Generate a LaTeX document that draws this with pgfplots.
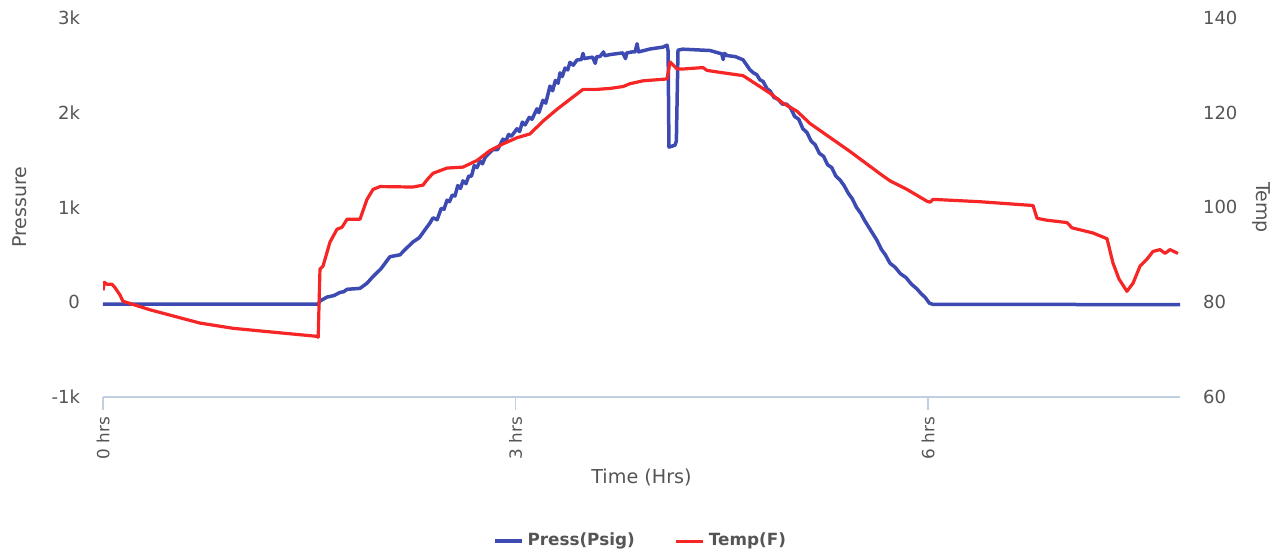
\documentclass[border=0pt]{standalone}
\usepackage{pgfplots}
\pgfplotsset{compat=1.18}
\usepackage{fontspec}
\setmainfont{DejaVu Sans}
\definecolor{pblue}{RGB}{60,74,178}
\definecolor{tred}{RGB}{246,38,38}
\definecolor{axline}{RGB}{192,208,224}
\definecolor{lblgray}{RGB}{85,85,85}
\begin{document}
\begin{tikzpicture}
\useasboundingbox (-51.5pt,-78.5pt) rectangle (588.5pt,198.5pt);
\begin{axis}[
  at={(0pt,0pt)}, anchor=south west,
  width=538.5pt, height=189.6pt, scale only axis,
  xmin=0, xmax=7.833, ymin=-1000, ymax=3000,
  axis x line*=bottom, axis y line*=left,
  x axis line style={draw=axline, line width=0.6pt},
  y axis line style={draw=none},
  xtick={0,3,6}, xticklabels={0 hrs,3 hrs,6 hrs},
  xtick align=outside, major tick length=6.5pt,
  xtick style={draw=axline, line width=0.6pt},
  xticklabel style={rotate=90, anchor=east, font=\fontsize{8.4}{10}\selectfont, text=lblgray},
  ytick={-1000,0,1000,2000,3000}, yticklabels={-1k,0,1k,2k,3k},
  ytick style={draw=none},
  yticklabel style={anchor=east, font=\fontsize{9}{10}\selectfont, text=lblgray, xshift=-8pt},
  xlabel={Time (Hrs)},
  xlabel style={at={(axis description cs:0.5,-0.211)}, anchor=center, font=\fontsize{9.6}{11}\selectfont, text=lblgray},
  ylabel={Pressure},
  ylabel style={at={(axis description cs:-0.0771,0.5)}, anchor=center, font=\fontsize{9.5}{11}\selectfont, text=lblgray},
]
\addplot[pblue, line width=1.75pt, line join=round] coordinates {
(0,-20) (1.564,-20) (1.578,12) (1.600,30) (1.629,54) (1.680,70) (1.724,104) (1.750,110)
(1.775,136) (1.869,146) (1.920,200) (1.964,271) (2.020,350) (2.087,480) (2.160,500)
(2.200,560) (2.255,636) (2.300,680) (2.378,836)
(2.40,890) (2.43,870) (2.46,990) (2.48,980) (2.502,1076) (2.52,1060) (2.54,1130) (2.56,1120)
(2.58,1230) (2.60,1200) (2.618,1280) (2.64,1250) (2.66,1330) (2.68,1330) (2.70,1440) (2.72,1420)
(2.742,1490) (2.76,1460) (2.78,1530) (2.80,1560) (2.836,1610) (2.87,1610) (2.909,1720) (2.93,1700)
(2.95,1770) (2.97,1750) (3.011,1830) (3.03,1800) (3.05,1900) (3.07,1870) (3.10,1950) (3.12,1930)
(3.156,2040) (3.17,2000) (3.20,2130) (3.22,2100) (3.251,2280) (3.27,2230) (3.29,2340) (3.31,2310)
(3.324,2420) (3.34,2380) (3.36,2470) (3.38,2450) (3.396,2530) (3.42,2500) (3.447,2555)
(3.480,2560) (3.491,2625) (3.500,2570) (3.560,2585) (3.580,2520) (3.590,2590) (3.615,2592)
(3.640,2640) (3.650,2600) (3.687,2612) (3.780,2630) (3.800,2570) (3.810,2630) (3.855,2642)
(3.870,2640) (3.884,2726) (3.895,2640) (3.978,2671) (4.073,2691) (4.102,2712) (4.110,2650)
(4.116,1636) (4.160,1656) (4.170,1700) (4.182,2659) (4.218,2669) (4.415,2655) (4.465,2634)
(4.500,2620) (4.510,2560) (4.520,2625) (4.538,2602) (4.600,2590) (4.655,2557)
(4.705,2452) (4.73,2420) (4.755,2400) (4.778,2345) (4.80,2330) (4.83,2250) (4.851,2230)
(4.88,2160) (4.91,2140) (4.94,2090) (4.97,2090) (5.00,2050) (5.03,1960) (5.06,1930)
(5.09,1830) (5.12,1790) (5.15,1700) (5.18,1660) (5.21,1570) (5.24,1540) (5.27,1450)
(5.30,1420) (5.33,1330) (5.36,1290) (5.39,1230) (5.42,1150) (5.45,1090) (5.48,1000)
(5.51,940) (5.54,860) (5.57,790) (5.60,720) (5.63,650) (5.66,560) (5.69,500) (5.724,410)
(5.76,370) (5.80,300) (5.84,260) (5.88,190) (5.92,140) (5.95,90) (5.98,50) (6.01,-10)
(6.036,-23) (7.833,-25)
};
\end{axis}
\begin{axis}[
  at={(0pt,0pt)}, anchor=south west,
  width=538.5pt, height=189.6pt, scale only axis,
  xmin=0, xmax=7.833, ymin=60, ymax=140,
  axis x line=none, axis y line*=right,
  y axis line style={draw=none},
  ytick={60,80,100,120,140}, yticklabels={60,80,100,120,140},
  ytick style={draw=none},
  yticklabel style={anchor=west, font=\fontsize{9}{10}\selectfont, text=lblgray, xshift=8pt},
  ylabel={Temp},
  ylabel style={at={(axis description cs:1.076,0.5)}, anchor=center, rotate=180, font=\fontsize{9.5}{11}\selectfont, text=lblgray},
  legend style={at={(axis description cs:0.5,-0.38)}, anchor=center, draw=none, fill=none,
    legend columns=2, font=\fontsize{8.4}{10}\selectfont\bfseries, text=lblgray,
    /tikz/every even column/.append style={column sep=18pt}},
  legend image code/.code={\draw[#1] (0pt,0pt) -- (13.5pt,0pt);},
]
\addlegendimage{pblue, line width=1.75pt}
\addlegendentry{Press(Psig)}
\addplot[tred, line width=1.6pt, line join=round] coordinates {
(0,82.5) (0.010,84.2) (0.029,83.8) (0.065,83.8) (0.087,83.1) (0.124,81.5) (0.145,80.2)
(0.342,78.4) (0.705,75.6) (0.945,74.5) (1.193,73.8) (1.556,72.8) (1.565,72.6) (1.578,87.0)
(1.600,87.6) (1.651,92.7) (1.702,95.4) (1.738,95.8) (1.775,97.5) (1.869,97.5) (1.920,101.7)
(1.964,103.8) (2.015,104.4) (2.255,104.3) (2.327,104.7) (2.356,105.8) (2.400,107.2)
(2.502,108.3) (2.618,108.5) (2.720,109.9) (2.815,112.0) (2.909,113.4) (3.011,114.7)
(3.105,115.5) (3.200,118.2) (3.302,120.7) (3.396,122.8) (3.491,124.9) (3.593,124.9)
(3.687,125.1) (3.782,125.5) (3.833,126.1) (3.927,126.7) (4.102,127.1) (4.124,130.7)
(4.175,129.2) (4.218,129.2) (4.364,129.5) (4.393,128.9) (4.509,128.4) (4.655,127.8)
(4.756,125.9) (4.851,124.1) (4.945,122.0) (5.047,120.3) (5.142,117.7) (5.433,111.8)
(5.651,107.1) (5.724,105.6) (5.847,103.8) (5.993,101.3) (6.015,101.1) (6.036,101.7)
(6.378,101.2) (6.764,100.4) (6.793,97.7) (6.865,97.3) (7.011,96.8) (7.047,95.7)
(7.200,94.6) (7.302,93.4) (7.345,88.3) (7.389,84.9) (7.447,82.3) (7.491,84.0) (7.542,87.6)
(7.593,89.1) (7.636,90.7) (7.687,91.1) (7.724,90.3) (7.760,91.1) (7.818,90.3)
};
\addlegendentry{Temp(F)}
\end{axis}
\end{tikzpicture}
\end{document}
